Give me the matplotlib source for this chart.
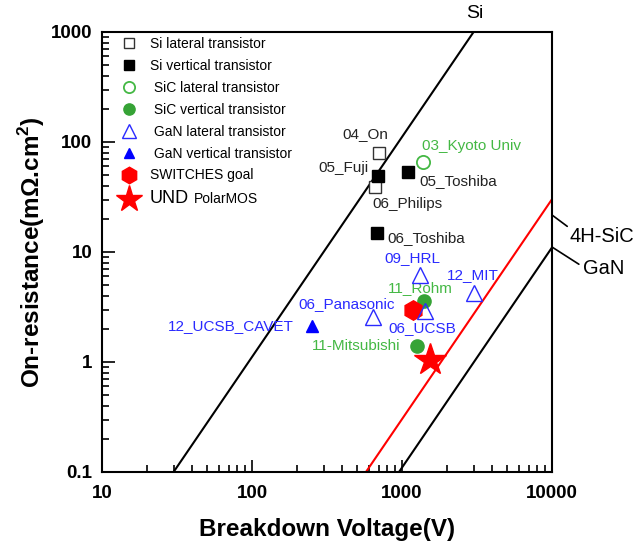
import matplotlib
matplotlib.use("Agg")
import matplotlib.pyplot as plt

plt.rcParams['font.family'] = ['Liberation Sans', 'DejaVu Sans']
plt.rcParams['mathtext.fontset'] = 'custom'
plt.rcParams['mathtext.rm'] = 'Liberation Sans:bold'
plt.rcParams['mathtext.bf'] = 'Liberation Sans:bold'

# device data: (breakdown voltage V, on-resistance mOhm.cm2)
si_lat_v = [705, 660]
si_lat_r = [79, 38.6]
si_lat_names = ["04_On", "06_Philips"]

si_ver_v = [695, 1100, 678]
si_ver_r = [49.4, 53, 15]
si_ver_names = ["05_Fuji", "05_Toshiba", "06_Toshiba"]

sic_lat_v = [1374]
sic_lat_r = [65.5]
sic_lat_names = ["03_Kyoto Univ"]

sic_ver_v = [1403, 1253]
sic_ver_r = [3.57, 1.39]
sic_ver_names = ["11_Rohm", "11-Mitsubishi"]

gan_lat_v = [1318, 3000, 1432, 643]
gan_lat_r = [6.17, 4.2, 2.89, 2.56]
gan_lat_names = ["09_HRL", "12_MIT", "06_UCSB", "06_Panasonic"]

gan_ver_v = [251]
gan_ver_r = [2.14]
gan_ver_names = ["12_UCSB_CAVET"]

goal_v = [1191]
goal_r = [2.95]
und_v = [1538]
und_r = [1.05]

# material limit lines (endpoints)
si_line_v = [30, 3076]
si_line_r = [0.1, 1051]
sic_line_v = [575, 10000]
sic_line_r = [0.1, 30.2]
gan_line_v = [955, 10000]
gan_line_r = [0.1, 11]

green_txt = '#44b844'
green_mk = '#36a336'
blue = '#2a2aff'

fig = plt.figure(figsize=(6.43, 5.51), dpi=100)
ax = fig.add_axes([102/643, 1-472/551, 450/643, 440/551])

ax.plot(si_line_v, si_line_r, color='black', lw=1.5, zorder=2)
ax.plot(sic_line_v, sic_line_r, color='red', lw=1.5, zorder=2)
ax.plot(gan_line_v, gan_line_r, color='black', lw=1.5, zorder=2)

ax.plot(si_lat_v, si_lat_r, 's', ms=9, mfc='white', mec='#333333', mew=1.0,
        ls='none', label='Si lateral transistor', zorder=3)
ax.plot(si_ver_v, si_ver_r, 's', ms=9, color='black',
        ls='none', label='Si vertical transistor', zorder=4)
ax.plot(sic_lat_v, sic_lat_r, 'o', ms=9.5, mfc='none', mec=green_txt, mew=1.3,
        ls='none', label=' SiC lateral transistor', zorder=3)
ax.plot(sic_ver_v, sic_ver_r, 'o', ms=9.5, color=green_mk,
        ls='none', label=' SiC vertical transistor', zorder=4)
ax.plot(gan_lat_v, gan_lat_r, '^', ms=12, mfc='none', mec=blue, mew=1.0,
        ls='none', label=' GaN lateral transistor', zorder=5)
ax.plot(gan_ver_v, gan_ver_r, '^', ms=9, color='blue',
        ls='none', label=' GaN vertical transistor', zorder=4)
ax.plot(goal_v, goal_r, 'h', ms=14, color='red',
        ls='none', label='SWITCHES goal', zorder=4)
ax.plot(und_v, und_r, '*', ms=24, color='red',
        ls='none', label='UND', zorder=6)

fs = 11
def lab(names, vs, rs, offs, color, ha):
    for n, v, r, o, h in zip(names, vs, rs, offs, ha):
        ax.annotate(n, (v, r), xytext=o, textcoords='offset pixels',
                    color=color, fontsize=fs, ha=h, va='center')

lab(si_lat_names, si_lat_v, si_lat_r, [(9, 19), (-3, -17)], '#222222', ['right', 'left'])
lab(si_ver_names, si_ver_v, si_ver_r, [(-10, 8), (11, -9), (11, -5)], '#222222', ['right', 'left', 'left'])
lab(sic_lat_names, sic_lat_v, sic_lat_r, [(-1, 16)], green_txt, ['left'])
lab(sic_ver_names, sic_ver_v, sic_ver_r, [(-36, 13), (-16, 0)], green_txt, ['left', 'right'])
lab(gan_lat_names, gan_lat_v, gan_lat_r, [(-36, 17), (-27, 18), (-37, -17), (22, 13)], blue,
    ['left', 'left', 'left', 'right'])
lab(gan_ver_names, gan_ver_v, gan_ver_r, [(-18, 0)], blue, ['right'])

ax.set_xscale('log')
ax.set_yscale('log')
ax.set_xlim(10, 10000)
ax.set_ylim(0.1, 1000)

ax.set_xticks([10, 100, 1000, 10000])
ax.set_xticklabels(['10', '100', '1000', '10000'])
ax.set_yticks([0.1, 1, 10, 100, 1000])
ax.set_yticklabels(['0.1', '1', '10', '100', '1000'])
ax.tick_params(which='both', direction='in', top=False, right=False, width=1.2)
ax.tick_params(which='major', length=9, labelsize=13.5)
ax.tick_params(axis='x', which='major', pad=9)
ax.tick_params(axis='y', which='major', pad=7)
ax.tick_params(which='minor', length=5)
for t in ax.get_xticklabels() + ax.get_yticklabels():
    t.set_fontweight('bold')
for s in ax.spines.values():
    s.set_linewidth(1.5)

ax.set_xlabel('Breakdown Voltage(V)', fontsize=17.5, fontweight='bold', labelpad=12)
ax.set_ylabel(r'On-resistance(m$\Omega$.cm$^2$)', fontsize=17.5, fontweight='bold', labelpad=3)

# material labels
ax.annotate('Si', xy=(3076, 1000), xytext=(0, 18), textcoords='offset pixels',
            fontsize=14, ha='center', va='center', annotation_clip=False)
ax.annotate('4H-SiC', xy=(10000, 21.7), xytext=(18, -22), textcoords='offset pixels',
            fontsize=14.5, ha='left', va='center', annotation_clip=False,
            arrowprops=dict(arrowstyle='-', color='black', lw=1.2, shrinkA=0, shrinkB=0,
                            relpos=(0.04, 0.85)))
ax.annotate('GaN', xy=(10000, 11.1), xytext=(31, -21), textcoords='offset pixels',
            fontsize=14.5, ha='left', va='center', annotation_clip=False,
            arrowprops=dict(arrowstyle='-', color='black', lw=1.2, shrinkA=0, shrinkB=0,
                            relpos=(-0.1, 0.7)))

leg = ax.legend(loc='upper left', bbox_to_anchor=(16.5/450, 1 - 5/440), frameon=False,
                fontsize=10, labelspacing=0.57, handletextpad=0.75, borderpad=0,
                borderaxespad=0, handlelength=1.5, numpoints=1, markerscale=0.85)
texts = leg.get_texts()
texts[-1].set_fontsize(13)

# small "PolarMOS" after "UND" in the legend
fig.canvas.draw()
bb = texts[-1].get_window_extent()
fig.text((bb.x1 + 5) / fig.bbox.width, (bb.y0 + bb.y1) / 2 / fig.bbox.height, 'PolarMOS',
         fontsize=10, va='center', ha='left')

fig.savefig('out.png', dpi=100)
